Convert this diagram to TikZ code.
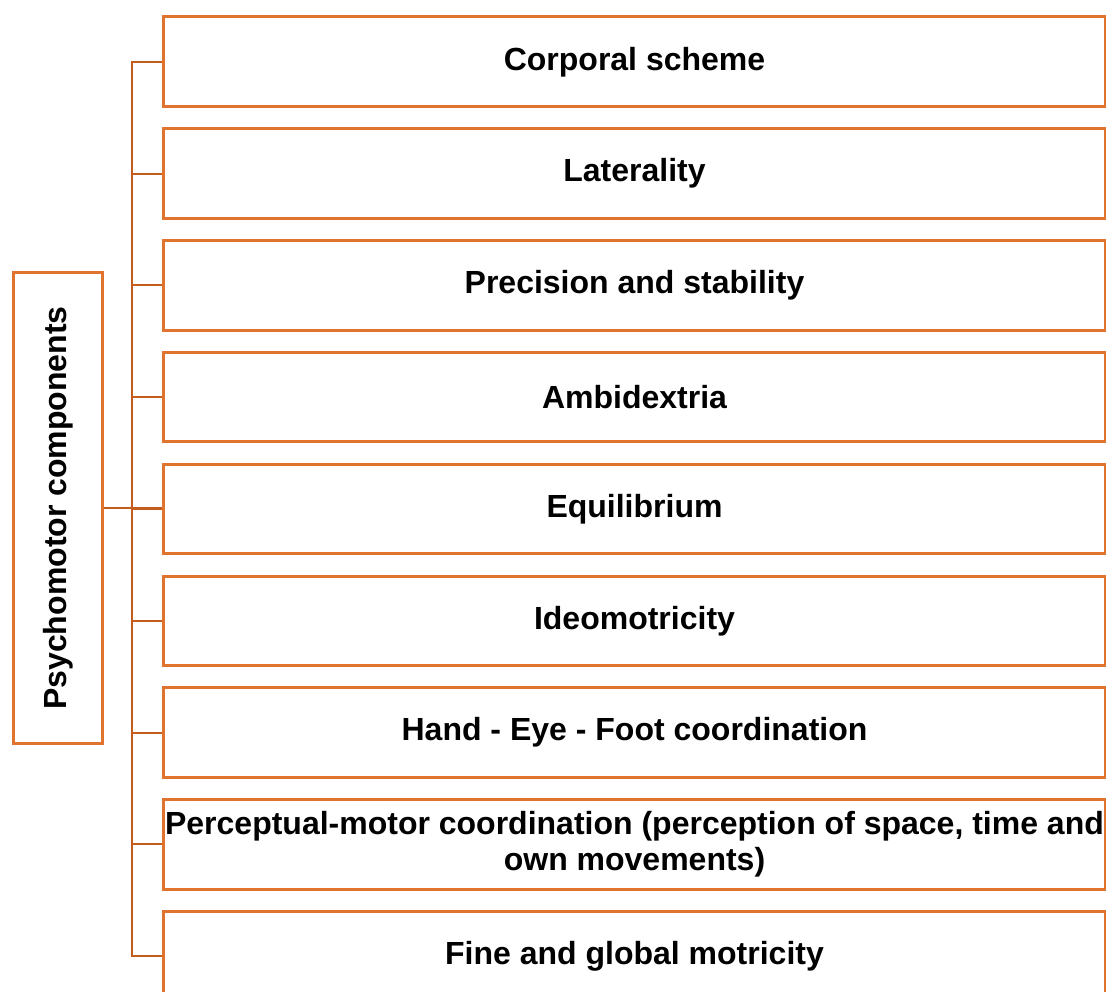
\documentclass[tikz,border=0pt]{standalone}
\usepackage{fontspec}
\setmainfont{Liberation Sans}
\definecolor{boxc}{RGB}{224,116,46}
\definecolor{linec}{RGB}{196,92,30}
\begin{document}
\begin{tikzpicture}[x=1pt,y=-1pt,
  item/.style={draw=boxc, line width=3pt, minimum width=942pt, minimum height=89.5pt,
    inner sep=0pt, font=\fontsize{32}{36}\selectfont\bfseries, align=center, anchor=north west},
  sidebox/.style={draw=boxc, line width=3pt, minimum width=471pt, minimum height=88.5pt,
    inner sep=0pt, rotate=90, font=\fontsize{32}{36}\selectfont\bfseries},
  conn/.style={draw=linec, line width=2pt}]
\clip (0,0) rectangle (1106,992);
\useasboundingbox (0,0) rectangle (1106,992);
\node[item] (b1) at (162,15.5) {Corporal scheme};
\node[item] (b2) at (162,127.3) {Laterality};
\node[item] (b3) at (162,239.1) {Precision and stability};
\node[item] (b4) at (162,350.9) {Ambidextria};
\node[item] (b5) at (162,462.7) {Equilibrium};
\node[item] (b6) at (162,574.5) {Ideomotricity};
\node[item] (b7) at (162,686.3) {Hand - Eye - Foot coordination};
\node[item] (b8) at (162,798.1) {Perceptual-motor coordination (perception of space, time and\\own movements)};
\node[item] (b9) at (162,909.9) {Fine and global motricity};
\node[sidebox] (left) at (57.75,508) {Psychomotor components};
\coordinate (busx) at (132,0);
\draw[conn] (b1.west) -- (b1.west -| busx) -- (b9.west -| busx) -- (b9.west);
\foreach \i in {2,...,8} {
  \draw[conn] (b\i.west) -- (b\i.west -| busx);
}
\draw[conn] (left.south) -- (left.south -| b5.west);
\end{tikzpicture}
\end{document}
